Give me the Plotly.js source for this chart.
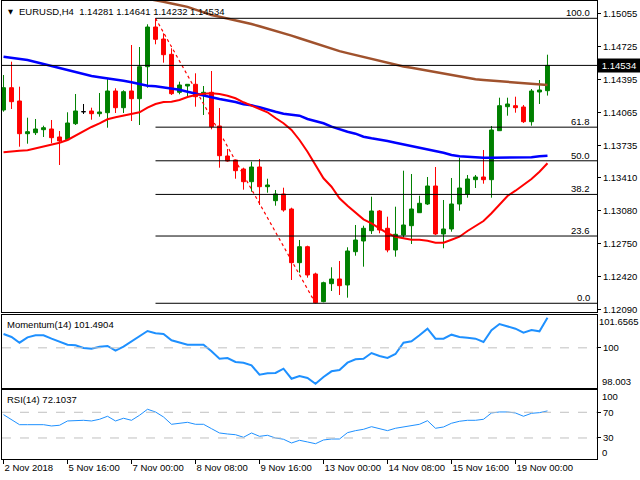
<!DOCTYPE html>
<html><head><meta charset="utf-8">
<script src="https://cdn.plot.ly/plotly-3.0.1.min.js"></script>
<style>html,body{margin:0;padding:0;background:#fff}#chart{width:640px;height:480px}</style>
</head><body><div id="chart"></div>
<script>
// ---- data (EURUSD H4) ----
const symbol = "EURUSD,H4";
const timeLabels = ["2 Nov 2018","5 Nov 16:00","7 Nov 00:00","8 Nov 08:00","9 Nov 16:00","13 Nov 00:00","14 Nov 08:00","15 Nov 16:00","19 Nov 00:00"];
const labelEvery = 8;
const open = [1.14088,1.14311,1.14178,1.13851,1.13861,1.13891,1.13898,1.13818,1.13791,1.13951,1.14071,1.14078,1.14051,1.14061,1.14278,1.14111,1.14278,1.14201,1.14521,1.14918,1.14798,1.14645,1.14265,1.14328,1.14345,1.14238,1.14265,1.13928,1.13628,1.13588,1.13498,1.13371,1.13518,1.13321,1.13181,1.13248,1.13098,1.12561,1.12721,1.12448,1.12171,1.12351,1.12398,1.12338,1.12671,1.12778,1.12881,1.13078,1.12905,1.12688,1.12838,1.12931,1.13061,1.13148,1.13328,1.12848,1.12898,1.13148,1.13248,1.13391,1.13418,1.13391,1.13881,1.14121,1.14131,1.14118,1.13971,1.14268,1.14281];
const high = [1.14438,1.14571,1.14321,1.14011,1.13998,1.13931,1.13988,1.13878,1.14065,1.14248,1.14148,1.14111,1.14258,1.14398,1.14305,1.14285,1.14738,1.14718,1.14945,1.15005,1.14855,1.14705,1.14371,1.14348,1.14455,1.14328,1.14478,1.14108,1.13698,1.13590,1.13511,1.13571,1.13598,1.13401,1.13288,1.13311,1.13111,1.12788,1.12731,1.12461,1.12371,1.12515,1.12578,1.12715,1.12938,1.12931,1.13221,1.13088,1.13021,1.13121,1.13481,1.13448,1.13231,1.13418,1.13518,1.13188,1.13408,1.13611,1.13438,1.13438,1.13688,1.13928,1.14211,1.14211,1.14221,1.14138,1.14298,1.14388,1.14641];
const low = [1.14071,1.14098,1.13721,1.13751,1.13838,1.13818,1.13755,1.13538,1.13778,1.13938,1.14048,1.13991,1.14021,1.13911,1.14058,1.14058,1.13978,1.13938,1.14311,1.14745,1.14561,1.14238,1.14245,1.14221,1.14121,1.14038,1.13895,1.13511,1.13571,1.13401,1.13291,1.13271,1.13138,1.13261,1.13131,1.13071,1.12388,1.12461,1.12411,1.12155,1.12165,1.12278,1.12238,1.12211,1.12631,1.12521,1.12848,1.12855,1.12665,1.12621,1.12811,1.12748,1.13058,1.13138,1.12838,1.12705,1.12871,1.13081,1.13211,1.13308,1.13351,1.13211,1.13878,1.14031,1.14061,1.13958,1.13931,1.14148,1.14232];
const close = [1.14311,1.14171,1.13851,1.13871,1.13898,1.13911,1.13811,1.13778,1.13958,1.14078,1.14071,1.14051,1.14068,1.14278,1.14111,1.14271,1.14201,1.14521,1.14918,1.14795,1.14641,1.14251,1.14338,1.14345,1.14221,1.14265,1.13921,1.13631,1.13578,1.13481,1.13371,1.13518,1.13321,1.13338,1.13248,1.13088,1.12561,1.12721,1.12438,1.12160,1.12361,1.12398,1.12331,1.12678,1.12788,1.12905,1.13078,1.12888,1.12688,1.12845,1.12938,1.13098,1.13155,1.13328,1.12848,1.12898,1.13148,1.13308,1.13398,1.13418,1.13391,1.13888,1.14131,1.14148,1.14111,1.13971,1.14278,1.14288,1.14534];
const maFast = [1.13665,1.13675,1.13681,1.13685,1.13705,1.13721,1.13738,1.13761,1.13788,1.13831,1.13881,1.13918,1.13955,1.13995,1.14015,1.14031,1.14045,1.14065,1.14111,1.14148,1.14168,1.14171,1.14188,1.14218,1.14238,1.14251,1.14255,1.14248,1.14231,1.14205,1.14165,1.14131,1.14105,1.14065,1.14008,1.13955,1.13888,1.13788,1.13671,1.13538,1.13405,1.13321,1.13205,1.13131,1.13065,1.12995,1.12955,1.12905,1.12855,1.12821,1.12805,1.12791,1.12791,1.12781,1.12761,1.12761,1.12791,1.12821,1.12878,1.12928,1.12978,1.13055,1.13145,1.13228,1.13281,1.13338,1.13398,1.13471,1.13555];
const maMid = [1.14621,1.14611,1.14595,1.14588,1.14568,1.14548,1.14528,1.14505,1.14488,1.14468,1.14441,1.14428,1.14415,1.14405,1.14398,1.14381,1.14365,1.14348,1.14331,1.14325,1.14315,1.14305,1.14291,1.14271,1.14251,1.14228,1.14215,1.14198,1.14185,1.14168,1.14145,1.14135,1.14115,1.14091,1.14071,1.14051,1.14038,1.14031,1.13998,1.13978,1.13955,1.13921,1.13895,1.13871,1.13851,1.13821,1.13805,1.13795,1.13778,1.13761,1.13745,1.13731,1.13710,1.13698,1.13678,1.13661,1.13638,1.13625,1.13621,1.13615,1.13611,1.13611,1.13611,1.13611,1.13611,1.13611,1.13615,1.13625,1.13631];
const maSlow = [null,null,null,null,null,null,null,null,null,null,null,null,null,null,null,null,null,null,1.15200,1.15187,1.15170,1.15153,1.15136,1.15119,1.15092,1.15062,1.15038,1.15021,1.15004,1.14987,1.14968,1.14948,1.14925,1.14903,1.14880,1.14856,1.14832,1.14806,1.14780,1.14753,1.14726,1.14700,1.14677,1.14657,1.14637,1.14617,1.14597,1.14577,1.14557,1.14537,1.14524,1.14511,1.14496,1.14480,1.14464,1.14449,1.14434,1.14420,1.14407,1.14395,1.14388,1.14381,1.14374,1.14367,1.14361,1.14353,1.14345,1.14339,1.14338];
const momentum = [100.687,100.538,100.255,100.523,100.623,100.623,100.454,100.290,100.155,100.126,99.991,99.957,100.056,100.091,99.857,100.056,100.324,100.553,100.836,100.722,100.687,100.374,100.255,100.155,100.155,100.155,99.827,99.460,99.494,99.295,99.261,99.131,98.664,98.734,98.749,98.962,98.465,98.600,98.500,98.217,98.550,98.833,98.898,99.261,99.430,99.460,99.743,99.594,99.494,99.693,100.255,100.324,100.623,100.951,100.454,100.454,100.653,100.538,100.503,100.454,100.290,100.871,101.184,101.050,100.951,100.752,100.886,100.822,101.4904];
const rsi = [66.3,59.1,50.7,50.7,50.7,50.7,48.7,49.8,56.5,57.5,57.5,56.5,59.1,63.8,56.5,60.7,57.5,65.3,74.7,70.5,62.7,51.3,52.3,54.4,51.3,51.3,44.5,37.8,36.2,35.1,31.1,37.8,32.6,34.2,30.0,28.0,22.2,26.4,23.8,21.1,26.9,28.4,28.4,38.3,41.4,43.5,47.6,44.5,41.4,45.1,47.1,49.8,51.3,56.9,45.1,47.1,52.9,56.0,57.5,57.5,59.1,68.9,70.5,70.5,68.9,63.8,68.4,69.4,72.1037];
const priceTicks = [1.15055,1.14725,1.14395,1.14065,1.13735,1.13410,1.13080,1.12750,1.12420,1.12090];
const momScale = [98.003, 101.6565];
const momLevels = [100];
const rsiLevels = [30, 70];
const rsiLabels = ["100","0"];
const fibRatios = [1.0, 0.618, 0.5, 0.382, 0.236, 0.0];

// ---- build ----
const n = open.length;
const idx = open.map((_, i) => i);
const xRange = [-0.19, 74.19];
const FONT = "Liberation Sans, Arial, sans-serif";
const fs = 9.5;

function pick(arr, cond) { return arr.filter((_, i) => cond(i)); }
const isUp = i => close[i] > open[i], isDn = i => close[i] < open[i], isDoji = i => close[i] === open[i];
function candle(cond, color) {
  return { type: "candlestick", xaxis: "x", yaxis: "y",
    x: pick(idx, cond), open: pick(open, cond), high: pick(high, cond), low: pick(low, cond), close: pick(close, cond),
    increasing: { line: { color: color, width: 1 }, fillcolor: color },
    decreasing: { line: { color: color, width: 1 }, fillcolor: color },
    whiskerwidth: 0, hoverinfo: "skip", showlegend: false };
}

let hiIdx = 0, loIdx = 0;
for (let i = 0; i < n; i++) { if (high[i] > high[hiIdx]) hiIdx = i; if (low[i] < low[loIdx]) loIdx = i; }
const fibHi = high[hiIdx], fibLo = low[loIdx];

const traces = [
  candle(isUp, "#008000"), candle(isDn, "#ff0000"), candle(isDoji, "#000000"),
  { type: "scatter", mode: "lines", x: [hiIdx, loIdx], y: [fibHi, fibLo], xaxis: "x", yaxis: "y",
    line: { color: "#ff0000", width: 1.2, dash: "dot" }, hoverinfo: "skip", showlegend: false },
  { type: "scatter", mode: "lines", x: idx, y: maSlow, line: { color: "#a0522d", width: 2.5 }, xaxis: "x", yaxis: "y", hoverinfo: "skip", showlegend: false },
  { type: "scatter", mode: "lines", x: idx, y: maMid, line: { color: "#0000ff", width: 2.5 }, xaxis: "x", yaxis: "y", hoverinfo: "skip", showlegend: false },
  { type: "scatter", mode: "lines", x: idx, y: maFast, line: { color: "#ff0000", width: 2 }, xaxis: "x", yaxis: "y", hoverinfo: "skip", showlegend: false },
  { type: "scatter", mode: "lines", x: idx, y: momentum, line: { color: "#1e90ff", width: 2 }, xaxis: "x2", yaxis: "y2", hoverinfo: "skip", showlegend: false },
  { type: "scatter", mode: "lines", x: idx, y: rsi, line: { color: "#1e90ff", width: 1 }, xaxis: "x3", yaxis: "y3", hoverinfo: "skip", showlegend: false }
];

const shapes = [];
const annotations = [];
fibRatios.forEach(r => {
  const lvl = fibLo + r * (fibHi - fibLo);
  shapes.push({ type: "line", xref: "x", yref: "y", x0: hiIdx, x1: xRange[1], y0: lvl, y1: lvl, line: { color: "#000", width: 1 } });
  annotations.push({ xref: "paper", yref: "y", x: 1, y: lvl, xanchor: "right", yanchor: "bottom", xshift: -5, yshift: -2,
    text: (r * 100).toFixed(1), showarrow: false, font: { family: FONT, size: fs, color: "#000" } });
});
const last = n - 1;
shapes.push({ type: "line", xref: "paper", yref: "y", x0: 0, x1: 1, y0: close[last], y1: close[last], line: { color: "#000", width: 1 } });
momLevels.forEach(v => shapes.push({ type: "line", xref: "paper", yref: "y2", x0: 0, x1: 1, y0: v, y1: v, line: { color: "#c0c0c0", width: 1, dash: "dash" } }));
rsiLevels.forEach(v => shapes.push({ type: "line", xref: "paper", yref: "y3", x0: 0, x1: 1, y0: v, y1: v, line: { color: "#c0c0c0", width: 1, dash: "dash" } }));

// price box
annotations.push({ xref: "paper", yref: "y", x: 1, y: close[last], xanchor: "left", yanchor: "middle", xshift: 0,
  text: close[last].toFixed(5), showarrow: false, bgcolor: "#000", width: 40, align: "center", borderpad: 1,
  font: { family: FONT, size: fs, color: "#fff" } });
// headers
annotations.push({ xref: "paper", yref: "y domain", x: 0, y: 1, xanchor: "left", yanchor: "top", xshift: 4, yshift: -5,
  text: "▼", showarrow: false, font: { family: "DejaVu Sans", size: 6.5, color: "#000" } });
annotations.push({ xref: "paper", yref: "y domain", x: 0, y: 1, xanchor: "left", yanchor: "top", xshift: 15, yshift: -3,
  text: symbol + "  " + [open[last], high[last], low[last], close[last]].map(v => v.toFixed(5)).join(" "),
  showarrow: false, font: { family: FONT, size: fs, color: "#000" } });
annotations.push({ xref: "paper", yref: "y2 domain", x: 0, y: 1, xanchor: "left", yanchor: "top", xshift: 3, yshift: -2,
  text: "Momentum(14) " + momentum[last].toFixed(4), showarrow: false, font: { family: FONT, size: fs, color: "#000" } });
annotations.push({ xref: "paper", yref: "y3 domain", x: 0, y: 1, xanchor: "left", yanchor: "top", xshift: 3, yshift: -2,
  text: "RSI(14) " + rsi[last].toFixed(4), showarrow: false, font: { family: FONT, size: fs, color: "#000" } });
// scale labels at panel edges
const edgeLab = (ref, yy, anchor, txt, sh) => annotations.push({ xref: "paper", yref: ref, x: 1, y: yy, xanchor: "left", yanchor: anchor,
  xshift: sh, borderpad: 0, text: txt, showarrow: false, font: { family: FONT, size: fs, color: "#000" } });
edgeLab("y2 domain", 1, "top", momScale[1].toFixed(4), 1);
edgeLab("y2 domain", 0, "bottom", momScale[0].toFixed(3), 4);
edgeLab("y3 domain", 1, "top", rsiLabels[0], 4);
edgeLab("y3 domain", 0, "bottom", rsiLabels[1], 4);

const axFrame = { showline: true, linecolor: "#000", linewidth: 1, mirror: true, showgrid: false, zeroline: false, fixedrange: true };
const yCommon = Object.assign({}, axFrame, { side: "right", ticks: "outside", ticklen: 3, tickcolor: "#000",
  tickfont: { family: FONT, size: fs, color: "#000" } });
const tickIdx = timeLabels.map((_, k) => k * labelEvery);

const layout = {
  width: 640, height: 480, margin: { l: 2, r: 43, t: 1, b: 21 },
  paper_bgcolor: "#fff", plot_bgcolor: "#fff", showlegend: false, dragmode: false,
  xaxis: Object.assign({}, axFrame, { range: xRange, anchor: "y", showticklabels: false, ticks: "", rangeslider: { visible: false } }),
  xaxis2: Object.assign({}, axFrame, { range: xRange, anchor: "y2", showticklabels: false, ticks: "" }),
  xaxis3: Object.assign({}, axFrame, { range: xRange, anchor: "y3", tickmode: "array", tickvals: tickIdx, ticktext: timeLabels,
    ticks: "outside", ticklen: 4, tickcolor: "#000", ticklabelposition: "outside right", tickangle: 0, automargin: false,
    tickfont: { family: FONT, size: fs, color: "#000" } }),
  yaxis: Object.assign({}, yCommon, { domain: [0.321, 1], range: [1.12068, 1.15178], tickmode: "array", tickvals: priceTicks,
    ticktext: priceTicks.map(v => v.toFixed(5)) }),
  yaxis2: Object.assign({}, yCommon, { domain: [0.155, 0.3155], range: momScale, tickmode: "array", tickvals: momLevels, ticktext: momLevels.map(String) }),
  yaxis3: Object.assign({}, yCommon, { domain: [0, 0.1496], range: [-2.7, 103.9], tickmode: "array", tickvals: rsiLevels, ticktext: rsiLevels.map(String) }),
  shapes: shapes, annotations: annotations
};
Plotly.newPlot("chart", traces, layout, { staticPlot: true, displayModeBar: false });
</script></body></html>
